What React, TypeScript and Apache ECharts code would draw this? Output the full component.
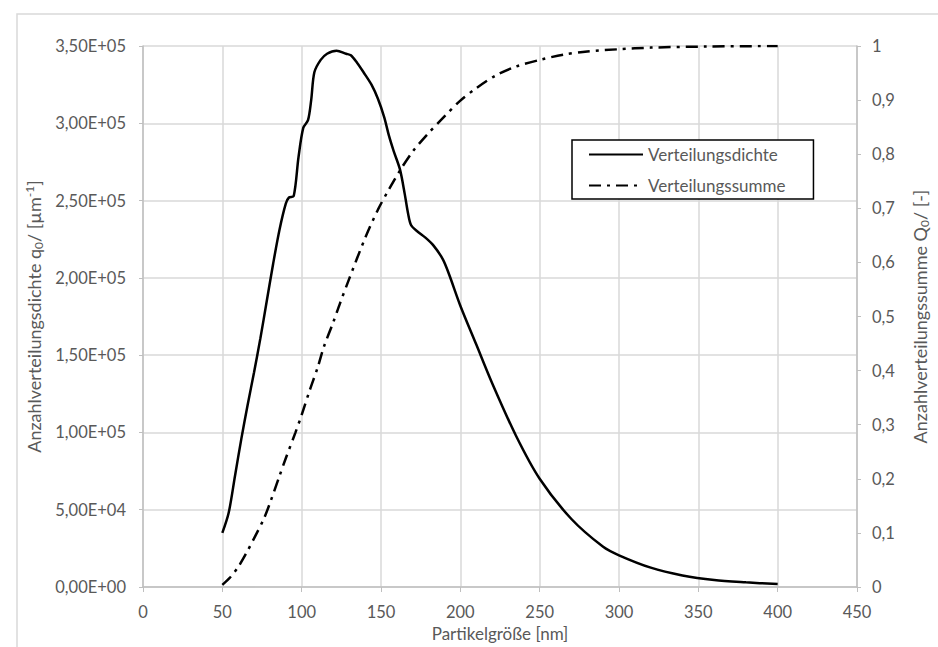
import React, { useEffect, useRef } from "react";
import * as echarts from "echarts";

const densityX = [50, 54, 58, 62, 66, 70, 74, 78, 82, 86, 90, 92, 95, 98, 101, 104, 106, 108, 112, 116, 122, 128, 131, 135, 139, 144, 148, 152, 155, 158, 162, 165, 167, 169, 173, 178, 183, 189, 193, 200, 210, 220, 235, 250, 270, 290, 300, 320, 340, 360, 380, 400];
const densityY = [35000, 48000, 72000, 96000, 118000, 139000, 161000, 185000, 209000, 231000, 248000, 252000, 253000, 278000, 297000, 302000, 315000, 333000, 341000, 345000, 347000, 345000, 344000, 339000, 333000, 325000, 316000, 304000, 292000, 282000, 270000, 254000, 242000, 234000, 230000, 226000, 221000, 212000, 202000, 182000, 157000, 132000, 98000, 70000, 44000, 26000, 20500, 12500, 7500, 4500, 3000, 1900];

const sumX = [50, 55, 60, 65, 70, 76, 80, 86, 90, 96, 100, 105, 110, 114, 120, 124, 130, 140, 148, 155, 162, 170, 179, 190, 200, 210, 222, 235, 251, 265, 280, 300, 320, 355, 400];
const sumY = [0.004, 0.018, 0.037, 0.062, 0.09, 0.125, 0.155, 0.205, 0.238, 0.285, 0.318, 0.363, 0.405, 0.444, 0.49, 0.523, 0.57, 0.645, 0.697, 0.735, 0.77, 0.805, 0.836, 0.87, 0.899, 0.922, 0.945, 0.962, 0.975, 0.984, 0.99, 0.994, 0.997, 0.999, 1.0];

const seriesNames = ["Verteilungsdichte", "Verteilungssumme"];

const FONT = "Lato";
const TXT = "#595959";

function sciLabel(v: number): string {
  if (v === 0) return "0,00E+00";
  const s = v.toExponential(2);
  const [m, e] = s.split("e");
  const sign = e[0] === "-" ? "-" : "+";
  const digits = e.replace(/[+-]/, "").padStart(2, "0");
  return m.replace(".", ",") + "E" + sign + digits;
}

function decLabel(v: number): string {
  const r = Math.round(v * 10) / 10;
  return String(r).replace(".", ",");
}

export default function App() {
  const ref = useRef<HTMLDivElement>(null);
  useEffect(() => {
    if (!ref.current) return;
    const chart = echarts.init(ref.current, undefined, { renderer: "svg" });
    const densityData = densityX.map((x, i) => [x, densityY[i]]);
    const sumData = sumX.map((x, i) => [x, sumY[i]]);
    chart.setOption({
      animation: false,
      backgroundColor: "#ffffff",
      textStyle: { fontFamily: FONT },
      graphic: [
        {
          type: "rect",
          shape: { x: 17, y: 14, width: 940, height: 650 },
          style: { fill: "none", stroke: "#d9d9d9", lineWidth: 1.5 },
          silent: true,
        },
      ],
      grid: { left: 143, right: 70, top: 46, bottom: 48, containLabel: false },
      legend: {
        left: 572,
        top: 140,
        orient: "vertical",
        backgroundColor: "#ffffff",
        borderColor: "#000000",
        borderWidth: 1.5,
        padding: [6, 28, 5, 16],
        itemWidth: 54,
        itemHeight: 14,
        itemGap: 14,
        itemStyle: { opacity: 0 },
        textStyle: { fontFamily: FONT, fontSize: 17, color: TXT },
        data: seriesNames,
      },
      xAxis: {
        type: "value",
        min: 0,
        max: 450,
        interval: 50,
        name: "Partikelgröße [nm]",
        nameLocation: "middle",
        nameGap: 38,
        nameTextStyle: { fontFamily: FONT, fontSize: 17, color: TXT },
        axisLine: { show: true, lineStyle: { color: "#bfbfbf", width: 1.5 } },
        axisTick: { show: true, length: 5, lineStyle: { color: "#bfbfbf" } },
        axisLabel: { fontFamily: FONT, fontSize: 16.5, color: TXT, margin: 16 },
        splitLine: { show: true, lineStyle: { color: "#d9d9d9", width: 1.5 } },
      },
      yAxis: [
        {
          type: "value",
          min: 0,
          max: 350000,
          interval: 50000,
          name: "{a|Anzahlverteilungsdichte q}{s|0}{a|/ [µm}{p|-1}{a|]}",
          nameLocation: "middle",
          nameGap: 96,
          nameRotate: 90,
          nameTextStyle: {
            fontFamily: FONT,
            color: TXT,
            rich: {
              a: { fontFamily: FONT, fontSize: 18, color: TXT },
              s: { fontFamily: FONT, fontSize: 12, color: TXT, verticalAlign: "bottom", padding: [9, 0, 0, 0] },
              p: { fontFamily: FONT, fontSize: 12, color: TXT, verticalAlign: "top", padding: [0, 0, 9, 0] },
            },
          },
          axisLine: { show: true, lineStyle: { color: "#bfbfbf", width: 1.5 } },
          axisTick: { show: true, length: 4, lineStyle: { color: "#bfbfbf" } },
          axisLabel: { fontFamily: FONT, fontSize: 16.5, color: TXT, margin: 17, formatter: sciLabel },
          splitLine: { show: true, lineStyle: { color: "#d9d9d9", width: 1.5 } },
        },
        {
          type: "value",
          min: 0,
          max: 1,
          interval: 0.1,
          position: "right",
          name: "{a|Anzahlverteilungssumme Q}{s|0}{a|/ [-]}",
          nameLocation: "middle",
          nameGap: 52,
          nameRotate: 90,
          nameTextStyle: {
            fontFamily: FONT,
            color: TXT,
            rich: {
              a: { fontFamily: FONT, fontSize: 18, color: TXT },
              s: { fontFamily: FONT, fontSize: 12, color: TXT, verticalAlign: "bottom", padding: [9, 0, 0, 0] },
            },
          },
          axisLine: { show: true, lineStyle: { color: "#bfbfbf", width: 1.5 } },
          axisTick: { show: true, length: 4, lineStyle: { color: "#bfbfbf" } },
          axisLabel: { fontFamily: FONT, fontSize: 16.5, color: TXT, margin: 15, formatter: decLabel },
          splitLine: { show: false },
        },
      ],
      series: [
        {
          name: seriesNames[0],
          type: "line",
          data: densityData,
          yAxisIndex: 0,
          symbol: "none",
          smooth: 0.3,
          lineStyle: { color: "#000000", width: 2.5 },
          itemStyle: { color: "#000000" },
        },
        {
          name: seriesNames[1],
          type: "line",
          data: sumData,
          yAxisIndex: 1,
          symbol: "none",
          smooth: 0.3,
          lineStyle: { color: "#000000", width: 2.5, type: [12, 6, 3, 6] },
          itemStyle: { color: "#000000" },
        },
      ],
    });
    return () => chart.dispose();
  }, []);
  return <div ref={ref} style={{ position: "fixed", left: 0, top: 0, width: 938, height: 647 }} />;
}
